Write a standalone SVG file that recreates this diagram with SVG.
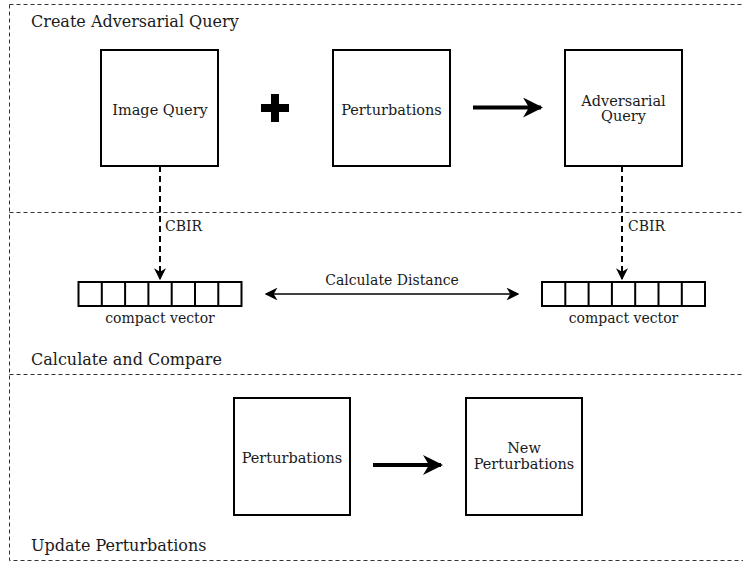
<svg xmlns="http://www.w3.org/2000/svg" width="743" height="563" viewBox="0 0 743 563">
<defs>
<style>
.t{font-family:"DejaVu Serif","Liberation Serif",serif;fill:#1a1a1a}
.title{font-size:16px}
.lbl{font-size:14.5px;text-anchor:middle}
.sm{font-size:14px}
.box{fill:#fff;stroke:#000;stroke-width:2}
.frame{fill:none;stroke:#333;stroke-width:1;stroke-dasharray:4,3}
.cell{fill:#fff;stroke:#000;stroke-width:2}
</style>
<marker id="ah" viewBox="0 0 10 10" refX="9" refY="5" markerWidth="5" markerHeight="5" orient="auto" markerUnits="strokeWidth"><path d="M0,0 L10,5 L0,10 L3,5 Z" fill="#000"/></marker>
<marker id="ahs" viewBox="0 0 10 10" refX="9" refY="5" markerWidth="8" markerHeight="8" orient="auto-start-reverse" markerUnits="strokeWidth"><path d="M0,0 L10,5 L0,10 L3,5 Z" fill="#000"/></marker>
<marker id="ahd" viewBox="0 0 10 10" refX="9" refY="5" markerWidth="6" markerHeight="6" orient="auto" markerUnits="strokeWidth"><path d="M0,0 L10,5 L0,10 L3,5 Z" fill="#000"/></marker>
</defs>
<rect width="743" height="563" fill="#fff"/>
<g id="frames">
<path class="frame" d="M9.5,4.5 H743 M9.5,4.5 V560.5 H743 M9.5,212.5 H743 M9.5,374.5 H743"/>
</g>
<g id="section-labels">
<text class="t title" x="31" y="27">Create Adversarial Query</text>
<text class="t title" x="31" y="365">Calculate and Compare</text>
<text class="t title" x="31" y="551">Update Perturbations</text>
</g>
<g id="image-query"><rect class="box" x="101" y="50" width="117" height="116"/><text class="t lbl" x="160" y="115">Image Query</text></g>
<g id="plus"><path d="M275,94 V122 M261,108 H289" stroke="#000" stroke-width="8"/></g>
<g id="perturbations"><rect class="box" x="333" y="50" width="117" height="116"/><text class="t lbl" x="391.5" y="115">Perturbations</text></g>
<g id="adversarial-query"><rect class="box" x="565" y="50" width="117" height="116"/><text class="t lbl" x="623.5" y="106">Adversarial</text><text class="t lbl" x="623.5" y="121">Query</text></g>
<g id="compact-vector-1">
<rect class="cell" x="78.5" y="282" width="163" height="24"/>
<path d="M101.8,282 V306 M125.1,282 V306 M148.4,282 V306 M171.7,282 V306 M195,282 V306 M218.3,282 V306" stroke="#000" stroke-width="2"/>
<text class="t sm" x="160" y="323" text-anchor="middle">compact vector</text>
</g>
<g id="compact-vector-2">
<rect class="cell" x="542" y="282" width="163" height="24"/>
<path d="M565.3,282 V306 M588.6,282 V306 M611.9,282 V306 M635.2,282 V306 M658.5,282 V306 M681.8,282 V306" stroke="#000" stroke-width="2"/>
<text class="t sm" x="623.5" y="323" text-anchor="middle">compact vector</text>
</g>
<g id="perturbations-2"><rect class="box" x="234" y="398" width="116" height="117"/><text class="t lbl" x="292" y="463">Perturbations</text></g>
<g id="new-perturbations"><rect class="box" x="466" y="398" width="116" height="117"/><text class="t lbl" x="524" y="453">New</text><text class="t lbl" x="524" y="469">Perturbations</text></g>
<g id="connectors">
<path d="M473,107.5 H541" stroke="#000" stroke-width="4" marker-end="url(#ah)"/>
<path d="M160,166 V279" stroke="#000" stroke-width="2" stroke-dasharray="6,4" marker-end="url(#ahd)"/>
<path d="M622,166 V279" stroke="#000" stroke-width="2" stroke-dasharray="6,4" marker-end="url(#ahd)"/>
<path d="M266,294 H518" stroke="#000" stroke-width="1.6" marker-start="url(#ahs)" marker-end="url(#ahs)"/>
<path d="M373,465 H441" stroke="#000" stroke-width="4" marker-end="url(#ah)"/>
<text class="t sm" x="165" y="231">CBIR</text>
<text class="t sm" x="628" y="231">CBIR</text>
<text class="t sm" x="392" y="285" text-anchor="middle">Calculate Distance</text>
</g>
</svg>
